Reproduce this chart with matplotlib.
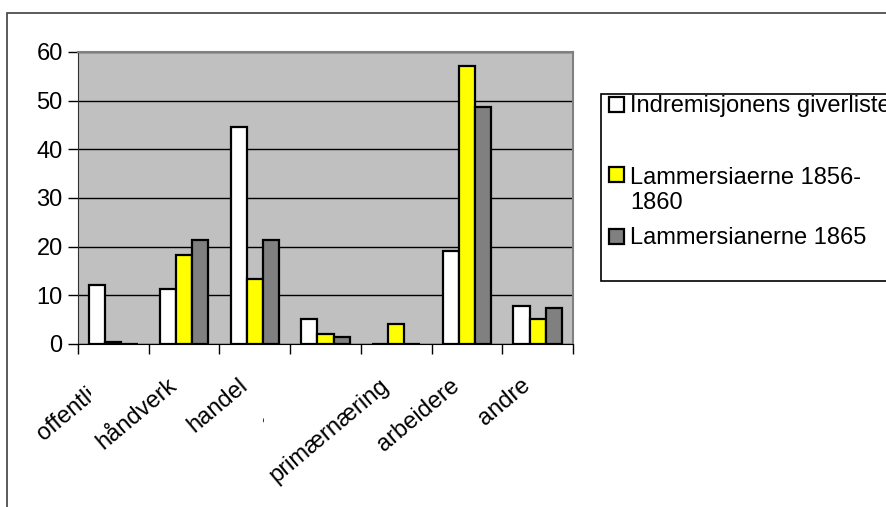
import matplotlib
matplotlib.use("Agg")
import matplotlib.pyplot as plt
import matplotlib.transforms as mtransforms
from matplotlib.patches import Rectangle
import numpy as np

plt.rcParams['font.family'] = ['Liberation Sans', 'DejaVu Sans']

categories = ["offentlig", "håndverk", "handel", "sjøfart",
              "primærnæring", "arbeidere", "andre"]
series_names = ["Indremisjonens giverliste",
                "Lammersiaerne 1856-\n1860",
                "Lammersianerne 1865"]
giverliste = [12.1, 11.4, 44.6, 5.1, 0.0, 19.2, 7.9]
lammers_1856 = [0.4, 18.3, 13.4, 2.0, 4.2, 57.1, 5.1]
lammers_1865 = [0.0, 21.4, 21.4, 1.4, 0.0, 48.8, 7.3]
series_values = [giverliste, lammers_1856, lammers_1865]
series_colors = ["#FFFFFF", "#FFFF00", "#808080"]
y_ticks = [0, 10, 20, 30, 40, 50, 60]

W, H = 886, 507
FS = 17
fig = plt.figure(figsize=(W / 100, H / 100), dpi=100)

# outer chart frame (runs off the right and bottom edges)
fig.patches.append(Rectangle((7 / W, -0.05), 1.0, 1 - 13 / H + 0.05,
                             transform=fig.transFigure, fill=False,
                             edgecolor="#404040", lw=1.2))

ax = fig.add_axes([78 / W, 1 - 344 / H, (573 - 78) / W, (344 - 52) / H])
ax.set_facecolor("#C0C0C0")

x = np.arange(len(categories))
bw = 0.228
for i, (vals, col) in enumerate(zip(series_values, series_colors)):
    ax.bar(x + (i - 1) * bw, vals, width=bw, color=col,
           edgecolor="black", linewidth=1.6, zorder=3)

ax.set_xlim(-0.5, len(categories) - 0.5)
ax.set_ylim(0, 60)
ax.set_yticks(y_ticks)
ax.tick_params(axis="y", direction="out", length=7, width=1, pad=4,
               labelsize=FS, colors="black")
ax.set_xticks(np.arange(len(categories) + 1) - 0.5)
ax.set_xticklabels([])
ax.tick_params(axis="x", direction="out", length=7, width=1)
ax.yaxis.grid(True, color="black", lw=1, zorder=1)
ax.set_axisbelow(True)
for side in ("top", "right"):
    ax.spines[side].set_color("#808080")
    ax.spines[side].set_linewidth(1.5)
ax.spines["left"].set_color("#303030")
ax.spines["bottom"].set_color("black")

# rotated category labels
base = mtransforms.blended_transform_factory(ax.transData, ax.transAxes)
lab_tr = mtransforms.offset_copy(base, fig=fig, x=-10, y=-39, units="dots")
labels = []
for k, (xi, name) in enumerate(zip(x, categories)):
    t = ax.text(xi, 0, name, transform=lab_tr, rotation=40,
                rotation_mode="anchor", ha="right", va="center",
                fontsize=FS, clip_on=False, zorder=10 + 2 * k)
    labels.append(t)

# labels whose tail runs under the next label's box get cut at that box
covered = [0, 3]
fig.canvas.draw()
renderer = fig.canvas.get_renderer()
pad = 1
for k in covered:
    bb = labels[k + 1].get_window_extent(renderer)
    box = Rectangle((bb.x0 - pad, bb.y0 - pad), bb.width + 2 * pad,
                    bb.height + 2 * pad, transform=mtransforms.IdentityTransform(),
                    facecolor="white", edgecolor="none", clip_on=False,
                    zorder=11 + 2 * k)
    ax.add_artist(box)

# legend panel
fig.patches.append(Rectangle((601 / W, 1 - 281 / H), 1.0, (281 - 94) / H,
                             transform=fig.transFigure, facecolor="white",
                             edgecolor="black", lw=1.2))
line_gap = 27
baselines = [112, 182, 244]
for name, col, by in zip(series_names, series_colors, baselines):
    fig.patches.append(Rectangle((609 / W, 1 - by / H), 15 / W, 15 / H,
                                 transform=fig.transFigure, facecolor=col,
                                 edgecolor="black", lw=1.6))
    # baseline alignment of multi-line text refers to the last line
    last = by + line_gap * name.count("\n")
    fig.text(630 / W, 1 - last / H, name, fontsize=FS, ha="left",
             va="baseline", linespacing=1.17)

fig.savefig("out.png", dpi=100)
